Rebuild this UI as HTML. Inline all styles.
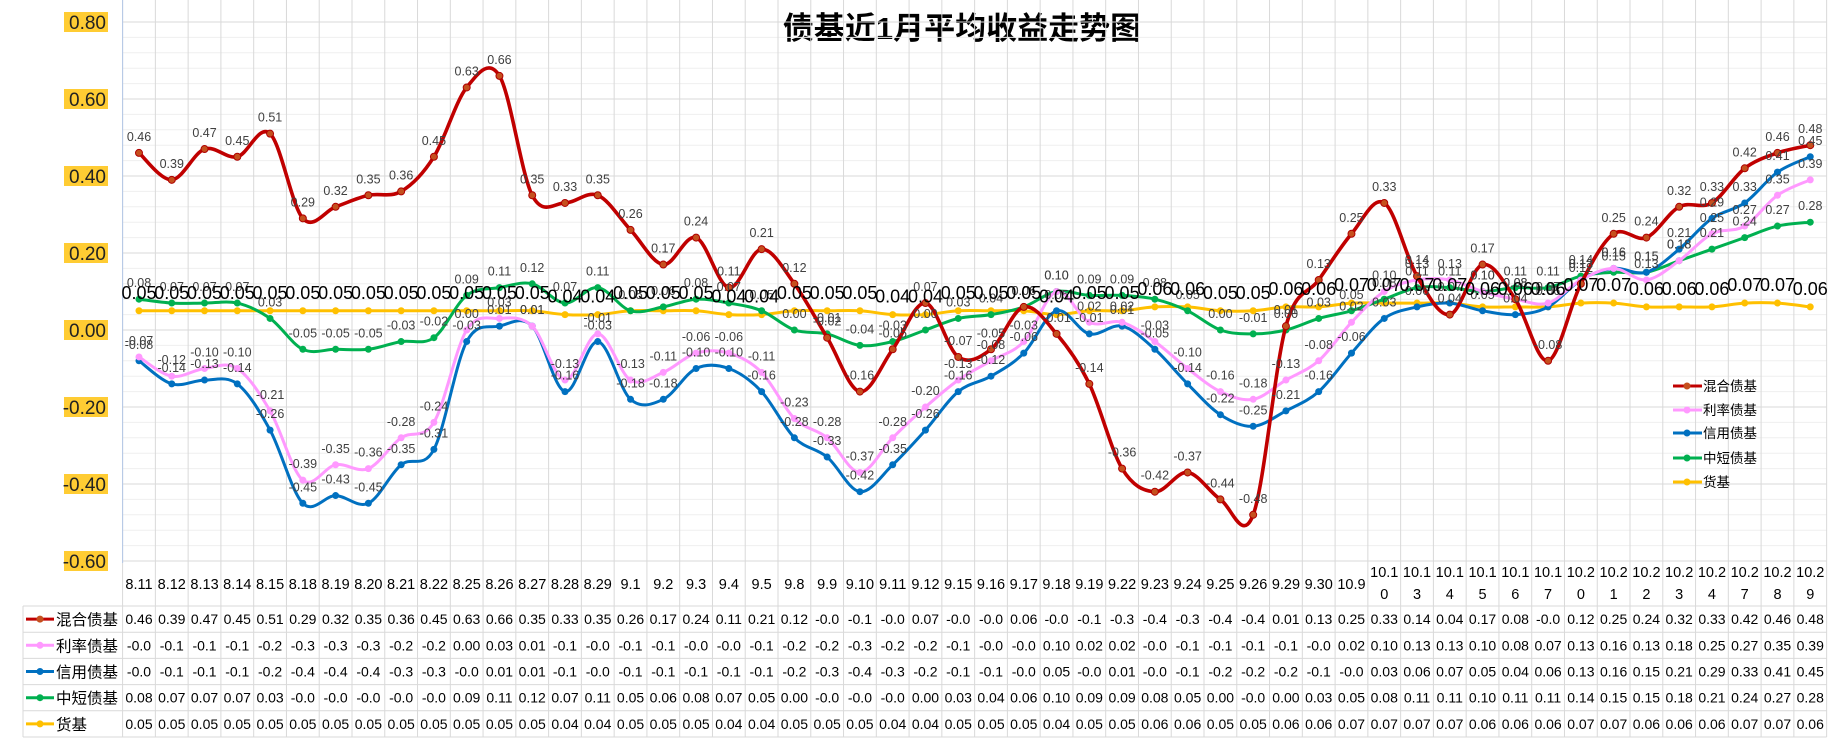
<!DOCTYPE html>
<html><head><meta charset="utf-8">
<style>
html,body{margin:0;padding:0;background:#fff;}
svg{display:block;font-family:"Liberation Sans","Noto Sans CJK SC",sans-serif;}
</style></head>
<body>
<svg id="chart" width="1835" height="744" viewBox="0 0 1835 744" xmlns="http://www.w3.org/2000/svg">
<text x="962" y="39" text-anchor="middle" font-size="31" font-weight="bold" fill="#000" font-family="'Liberation Sans','Noto Sans CJK SC',sans-serif">债基近1月平均收益走势图</text>
<g id="grid"></g><g id="yaxis"></g><g id="lines"></g><g id="labels"></g><g id="table"></g><g id="legend"></g>
</svg>
<script>
const categories = ['8.11','8.12','8.13','8.14','8.15','8.18','8.19','8.20','8.21','8.22','8.25','8.26','8.27','8.28','8.29','9.1','9.2','9.3','9.4','9.5','9.8','9.9','9.10','9.11','9.12','9.15','9.16','9.17','9.18','9.19','9.22','9.23','9.24','9.25','9.26','9.29','9.30','10.9','10.10','10.13','10.14','10.15','10.16','10.17','10.20','10.21','10.22','10.23','10.24','10.27','10.28','10.29'];
const mixedValues = [0.46,0.39,0.47,0.45,0.51,0.29,0.32,0.35,0.36,0.45,0.63,0.66,0.35,0.33,0.35,0.26,0.17,0.24,0.11,0.21,0.12,-0.02,-0.16,-0.05,0.07,-0.07,-0.05,0.06,-0.01,-0.14,-0.36,-0.42,-0.37,-0.44,-0.48,0.01,0.13,0.25,0.33,0.14,0.04,0.17,0.08,-0.08,0.12,0.25,0.24,0.32,0.33,0.42,0.46,0.48];
const rateValues = [-0.07,-0.12,-0.10,-0.10,-0.21,-0.39,-0.35,-0.36,-0.28,-0.24,0.00,0.03,0.01,-0.13,-0.01,-0.13,-0.11,-0.06,-0.06,-0.11,-0.23,-0.28,-0.37,-0.28,-0.20,-0.13,-0.08,-0.03,0.10,0.02,0.02,-0.03,-0.10,-0.16,-0.18,-0.13,-0.08,0.02,0.10,0.13,0.13,0.10,0.08,0.07,0.13,0.16,0.13,0.18,0.25,0.27,0.35,0.39];
const creditValues = [-0.08,-0.14,-0.13,-0.14,-0.26,-0.45,-0.43,-0.45,-0.35,-0.31,-0.03,0.01,0.01,-0.16,-0.03,-0.18,-0.18,-0.10,-0.10,-0.16,-0.28,-0.33,-0.42,-0.35,-0.26,-0.16,-0.12,-0.06,0.05,-0.01,0.01,-0.05,-0.14,-0.22,-0.25,-0.21,-0.16,-0.06,0.03,0.06,0.07,0.05,0.04,0.06,0.13,0.16,0.15,0.21,0.29,0.33,0.41,0.45];
const shortValues = [0.08,0.07,0.07,0.07,0.03,-0.05,-0.05,-0.05,-0.03,-0.02,0.09,0.11,0.12,0.07,0.11,0.05,0.06,0.08,0.07,0.05,0.00,-0.01,-0.04,-0.03,0.00,0.03,0.04,0.06,0.10,0.09,0.09,0.08,0.05,0.00,-0.01,0.00,0.03,0.05,0.08,0.11,0.11,0.10,0.11,0.11,0.14,0.15,0.15,0.18,0.21,0.24,0.27,0.28];
const moneyValues = [0.05,0.05,0.05,0.05,0.05,0.05,0.05,0.05,0.05,0.05,0.05,0.05,0.05,0.04,0.04,0.05,0.05,0.05,0.04,0.04,0.05,0.05,0.05,0.04,0.04,0.05,0.05,0.05,0.04,0.05,0.05,0.06,0.06,0.05,0.05,0.06,0.06,0.07,0.07,0.07,0.07,0.06,0.06,0.06,0.07,0.07,0.06,0.06,0.06,0.07,0.07,0.06];
const seriesNames = ['混合债基','利率债基','信用债基','中短债基','货基'];
const yTicks = [0.80,0.60,0.40,0.20,0.00,-0.20,-0.40,-0.60];

const NS='http://www.w3.org/2000/svg';
const svg=document.getElementById('chart');
const seriesData=[mixedValues,rateValues,creditValues,shortValues,moneyValues];
const colors=['#c00000','#ff99ff','#0070c0','#00b050','#ffc000'];
const keys=['mixed','rate','credit','short','money'];
const left=122.6, step=32.77, n=categories.length, right=left+step*n;
const plotTop=22, plotBottom=563;
function x(i){return left+step*(i+0.5);}
function y(v){return 330-v*385;}
function mk(tag,attrs,parent){const e=document.createElementNS(NS,tag);for(const k in attrs)e.setAttribute(k,attrs[k]);parent.appendChild(e);return e;}
const grid=document.getElementById('grid');
for(let v=-0.60;v<=0.801;v+=0.04){
  const major=Math.abs(Math.round(v*100)%20)===0;
  const l=mk('line',{x1:left,x2:right,y1:y(v),y2:y(v),stroke:major?'#d9d9d9':'#efefef','stroke-width':1},grid);
  
  
}
for(let k=0;k<=n;k++){
  const gx=left+step*k;
  const l=mk('line',{x1:gx,x2:gx,y1:0,y2:737,stroke:'#d9d9d9','stroke-width':1},grid);
  
  
}
mk('line',{x1:left,x2:left,y1:0,y2:plotBottom,stroke:'#b4c7e7','stroke-width':1},grid);
const yaxis=document.getElementById('yaxis');
yTicks.forEach(v=>{
  const r=mk('rect',{x:64,y:y(v)-10,width:44,height:20,fill:'#ffcc33'},yaxis);
  
  
  const t=mk('text',{x:106,y:y(v)+7,'text-anchor':'end','font-size':19,fill:'#222'},yaxis);
  t.textContent=v.toFixed(2);
  
  
});
function smooth(pts){
  let d='M'+pts[0][0]+','+pts[0][1];
  for(let i=0;i<pts.length-1;i++){
    const p0=pts[i-1]||pts[i],p1=pts[i],p2=pts[i+1],p3=pts[i+2]||p2;
    const c1=[p1[0]+(p2[0]-p0[0])/6,p1[1]+(p2[1]-p0[1])/6];
    const c2=[p2[0]-(p3[0]-p1[0])/6,p2[1]-(p3[1]-p1[1])/6];
    d+=' C'+c1[0].toFixed(1)+','+c1[1].toFixed(1)+' '+c2[0].toFixed(1)+','+c2[1].toFixed(1)+' '+p2[0].toFixed(1)+','+p2[1].toFixed(1);
  }
  return d;
}
const lines=document.getElementById('lines');
const labels=document.getElementById('labels');
for(let s=seriesData.length-1;s>=0;s--){
  const vals=seriesData[s];
  const pts=vals.map((v,i)=>[x(i),y(v)]);
  const p=mk('path',{d:smooth(pts),fill:'none',stroke:colors[s],'stroke-width':s===0?3.6:3,'stroke-linejoin':'round'},lines);
  
  
  pts.forEach((pt,i)=>{
    const c=mk('circle',{cx:pt[0],cy:pt[1],r:3.5,fill:s===0?'#c5501e':colors[s],stroke:s===0?'#b00000':'none'},lines);
    
    
  });
}
seriesData.forEach((vals,s)=>{
  vals.forEach((v,i)=>{
    const big=s===4;
    const t=mk('text',{x:x(i),y:y(v)-(big?12:12),'text-anchor':'middle','font-size':big?18:12.5,fill:big?'#000':'#404040'},labels);
    t.textContent=v.toFixed(2);
    
    
  });
});
const table=document.getElementById('table');
const rowY=[606,632.2,658.4,684.6,710.8,737];
rowY.forEach(ry=>{mk('line',{x1:23,x2:right,y1:ry,y2:ry,stroke:'#d9d9d9'},table);});
mk('line',{x1:23,x2:23,y1:606,y2:737,stroke:'#d9d9d9'},table);
categories.forEach((c,i)=>{
  if(c.length>4){
    const a=mk('text',{x:x(i),y:577,'text-anchor':'middle','font-size':14.5,fill:'#000'},table);a.textContent=c.slice(0,4);
    
    
    const b=mk('text',{x:x(i),y:599,'text-anchor':'middle','font-size':14.5,fill:'#000'},table);b.textContent=c.slice(4);
    
    
  }else{
    const a=mk('text',{x:x(i),y:589,'text-anchor':'middle','font-size':14.5,fill:'#000'},table);a.textContent=c;
    
    
  }
});
seriesData.forEach((vals,s)=>{
  const cy=(rowY[s]+rowY[s+1])/2;
  mk('line',{x1:26,x2:54,y1:cy,y2:cy,stroke:colors[s],'stroke-width':3},table);
  mk('circle',{cx:40,cy:cy,r:3.5,fill:s===0?'#c5501e':colors[s]},table);
  const nm=mk('text',{x:56,y:cy+6,'font-size':15.5,fill:'#000'},table);
  nm.textContent=seriesNames[s];
  
  
  vals.forEach((v,i)=>{
    const t=mk('text',{x:x(i),y:cy+5,'text-anchor':'middle','font-size':14,fill:'#000'},table);
    t.textContent=v.toFixed(2).slice(0,4);
    
    
  });
});
const legend=document.getElementById('legend');
const legY=[386,410,433,458,482];
seriesNames.forEach((nmv,s)=>{
  const g=mk('g',{},legend);
  
  
  mk('line',{x1:1673,x2:1702,y1:legY[s],y2:legY[s],stroke:colors[s],'stroke-width':3},g);
  mk('circle',{cx:1687,cy:legY[s],r:3.5,fill:s===0?'#c5501e':colors[s]},g);
  const t=mk('text',{x:1703,y:legY[s]+5,'font-size':13.5,fill:'#000'},g);
  t.textContent=nmv;
});
</script>
</body></html>
